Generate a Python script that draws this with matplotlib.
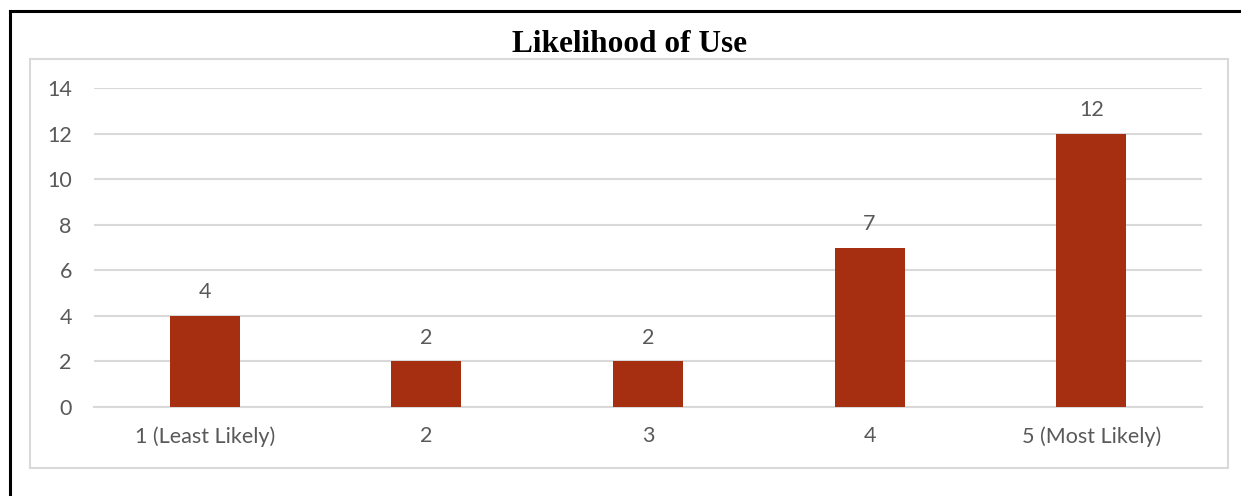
import matplotlib
matplotlib.use("Agg")
import matplotlib.pyplot as plt
from matplotlib.patches import Rectangle
from matplotlib.lines import Line2D

categories = ["1 (Least Likely)", "2", "3", "4", "5 (Most Likely)"]
counts = [4, 2, 2, 7, 12]
yticks = [0, 2, 4, 6, 8, 10, 12, 14]

W, H = 1241, 496
bar_color = "#A52F10"
text_color = "#595959"
grid_color = "#D9D9D9"
label_font = "Lato"

fig = plt.figure(figsize=(W / 100, H / 100), dpi=100)

def fx(px):
    return px / W

def fy(py):
    return 1 - py / H

# outer black frame (left and top edges)
fig.add_artist(Line2D([fx(10), fx(10)], [fy(11), 0], color="black", lw=2.2, transform=fig.transFigure))
fig.add_artist(Line2D([fx(10), 1], [fy(11), fy(11)], color="black", lw=2.2, transform=fig.transFigure))

# light grey chart-area box
fig.add_artist(Rectangle((fx(30), fy(468)), fx(1228 - 30), (468 - 59) / H,
                         fill=False, edgecolor=grid_color, lw=1.5, transform=fig.transFigure))

ax = fig.add_axes([fx(94), fy(407), fx(1202 - 94), (407 - 88) / H])
x = range(len(categories))
bars = ax.bar(x, counts, width=0.316, color=bar_color, zorder=3)
for xi, v in zip(x, counts):
    ax.annotate(str(v), (xi, v), xytext=(0, 10), textcoords="offset points",
                ha="center", va="bottom", fontsize=15.5, color=text_color, family=label_font)

ax.set_xlim(-0.5, len(categories) - 0.5)
ax.set_ylim(0, 14)
ax.set_yticks(yticks)
ax.set_xticks(list(x))
ax.set_xticklabels(categories)
ax.yaxis.grid(True, color=grid_color, lw=1.5, zorder=0)
for s in ["top", "right", "left"]:
    ax.spines[s].set_visible(False)
ax.spines["bottom"].set_color(grid_color)
ax.spines["bottom"].set_linewidth(1.5)
ax.tick_params(axis="both", length=0, labelcolor=text_color, labelsize=15.5)
ax.tick_params(axis="x", pad=14)
ax.tick_params(axis="y", pad=16)
for lab in ax.get_xticklabels() + ax.get_yticklabels():
    lab.set_family(label_font)

fig.text(fx(629), fy(44), "Likelihood of Use", ha="center", va="center",
         fontsize=22.5, fontweight="bold", family="Liberation Serif")

fig.savefig("out.png", dpi=100)
